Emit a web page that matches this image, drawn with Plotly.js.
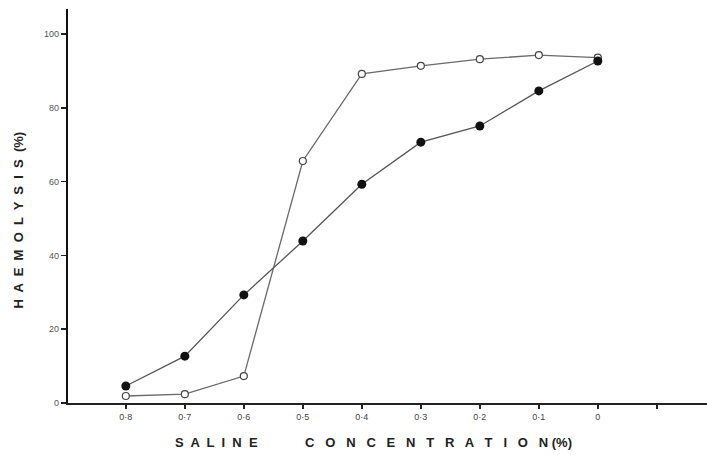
<!DOCTYPE html>
<html>
<head>
<meta charset="utf-8">
<script src="https://cdn.plot.ly/plotly-3.0.1.min.js"></script>
<style>html,body{margin:0;padding:0;background:#fff;}#chart{width:707px;height:455px;}</style>
</head>
<body>
<div id="chart"></div>
<script>
// Saline concentration categories (%), left to right
const concentrations = ["0·8", "0·7", "0·6", "0·5", "0·4", "0·3", "0·2", "0·1", "0"];
const positions = [0, 1, 2, 3, 4, 5, 6, 7, 8];
// Haemolysis (%) — filled circles
const filledSeries = [4.6, 12.7, 29.3, 43.9, 59.3, 70.7, 75.1, 84.6, 92.7];
// Haemolysis (%) — open circles
const openSeries = [1.9, 2.4, 7.3, 65.6, 89.2, 91.4, 93.2, 94.3, 93.6];
// Axis ticks
const xTickVals = [0, 1, 2, 3, 4, 5, 6, 7, 8, 9];
const xTickText = ["0·8", "0·7", "0·6", "0·5", "0·4", "0·3", "0·2", "0·1", "0", ""];
const yTickVals = [0, 20, 40, 60, 80, 100];

const titleFont = {size: 13, color: "#222", family: "Liberation Sans, Arial, sans-serif", weight: "bold"};

const traces = [
  {
    x: positions, y: openSeries, type: "scatter", mode: "lines+markers",
    line: {color: "#6a6a6a", width: 1.3},
    marker: {symbol: "circle", size: 7, color: "#ffffff", line: {color: "#444", width: 1.2}},
    showlegend: false, hoverinfo: "skip"
  },
  {
    x: positions, y: filledSeries, type: "scatter", mode: "lines+markers",
    line: {color: "#555", width: 1.3},
    marker: {symbol: "circle", size: 9, color: "#111"},
    showlegend: false, hoverinfo: "skip"
  }
];

const layout = {
  width: 707, height: 455,
  margin: {l: 68, r: 0, t: 9, b: 52},
  paper_bgcolor: "#fff", plot_bgcolor: "#fff",
  font: {family: "Liberation Sans, Arial, sans-serif", color: "#333"},
  xaxis: {
    range: [-0.98, 9.85], showgrid: false, zeroline: false,
    showline: true, linecolor: "#222", linewidth: 2,
    ticks: "outside", ticklen: 4, tickwidth: 1.5, tickcolor: "#222",
    tickvals: xTickVals, ticktext: xTickText,
    tickfont: {size: 9, color: "#444"}
  },
  yaxis: {
    range: [0, 106.8], showgrid: false, zeroline: false,
    showline: true, linecolor: "#111", linewidth: 2.2,
    ticks: "outside", ticklen: 5, tickwidth: 1.5, tickcolor: "#222",
    tickvals: yTickVals, tickfont: {size: 9, color: "#555"}
  },
  annotations: [
    {
      xref: "paper", yref: "paper", x: 0.1643, y: 0, yshift: -39,
      xanchor: "left", yanchor: "middle", showarrow: false,
      text: "S  A  L  I  N  E", font: titleFont
    },
    {
      xref: "paper", yref: "paper", x: 0.3678, y: 0, yshift: -39,
      xanchor: "left", yanchor: "middle", showarrow: false,
      text: "C   O   N   C   E   N   T   R   A   T   I   O   N (%)", font: titleFont
    },
    {
      xref: "paper", yref: "paper", x: 0, xshift: -49, y: 0.463,
      xanchor: "center", yanchor: "middle", showarrow: false, textangle: -90,
      text: "H  A  E  M  O  L  Y  S  I  S  (%)", font: titleFont
    }
  ]
};

Plotly.newPlot("chart", traces, layout, {displayModeBar: false, staticPlot: true});
</script>
</body>
</html>
